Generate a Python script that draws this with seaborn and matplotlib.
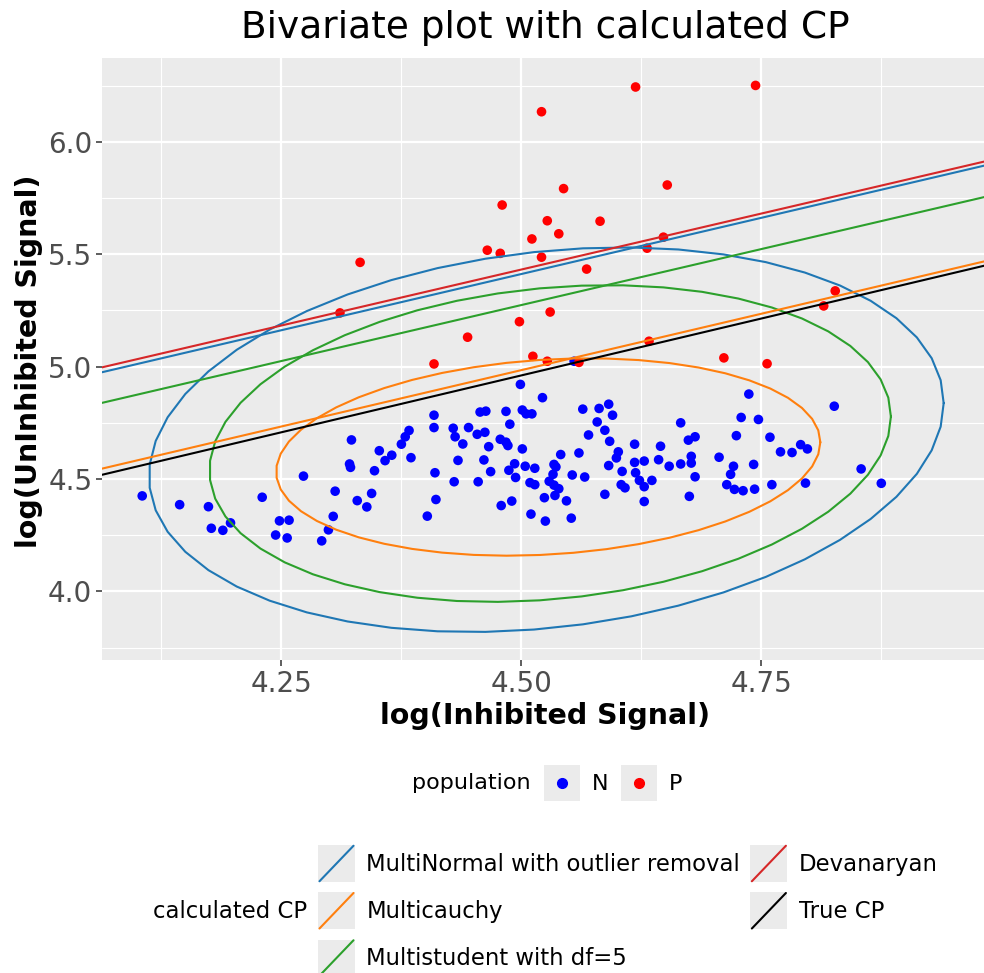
import numpy as np
import pandas as pd
import matplotlib
matplotlib.use("Agg")
import matplotlib.pyplot as plt
import seaborn as sns
from matplotlib.legend_handler import HandlerBase
from matplotlib.lines import Line2D
from matplotlib.patches import Rectangle
from matplotlib.ticker import FixedLocator

# ---------------- data ----------------
n_x = [4.105, 4.144, 4.174, 4.177, 4.189, 4.197, 4.230, 4.248, 4.258, 4.244, 4.256, 4.292, 4.299,
       4.304, 4.306, 4.273, 4.323, 4.321, 4.322, 4.329, 4.339, 4.344, 4.347, 4.352, 4.358, 4.365,
       4.499, 4.522, 4.409, 4.409, 4.383, 4.379, 4.375, 4.385, 4.410, 4.411, 4.402, 4.429, 4.431,
       4.439, 4.445, 4.454, 4.462, 4.457, 4.463, 4.484, 4.488, 4.501, 4.505, 4.511, 4.466, 4.478,
       4.484, 4.486, 4.501, 4.434, 4.461, 4.468, 4.430, 4.455, 4.493, 4.487, 4.494, 4.504, 4.514,
       4.509, 4.514, 4.479, 4.490, 4.510, 4.525, 4.524, 4.534, 4.536, 4.533, 4.529, 4.534, 4.539,
       4.535, 4.547, 4.552, 4.541, 4.553, 4.560, 4.566, 4.570, 4.564, 4.579, 4.581,
       4.591, 4.595, 4.587, 4.592, 4.601, 4.599, 4.591, 4.605, 4.618, 4.618, 4.628, 4.619, 4.623,
       4.628, 4.636, 4.604, 4.608, 4.587, 4.628, 4.645, 4.643, 4.654, 4.666, 4.666, 4.674, 4.681,
       4.677, 4.677, 4.681, 4.675, 4.706, 4.721, 4.718, 4.714, 4.722, 4.731, 4.743, 4.742, 4.724,
       4.729, 4.747, 4.737, 4.759, 4.761, 4.770, 4.782, 4.791, 4.798, 4.796, 4.826, 4.854, 4.875,
       4.555]
n_y = [4.425, 4.386, 4.377, 4.281, 4.272, 4.305, 4.419, 4.314, 4.317, 4.251, 4.238, 4.225, 4.274,
       4.334, 4.446, 4.513, 4.674, 4.567, 4.552, 4.404, 4.376, 4.436, 4.537, 4.626, 4.582, 4.606,
       4.921, 4.862, 4.784, 4.729, 4.716, 4.688, 4.655, 4.595, 4.528, 4.409, 4.335, 4.726, 4.688,
       4.656, 4.729, 4.699, 4.708, 4.798, 4.802, 4.801, 4.744, 4.807, 4.790, 4.790, 4.644, 4.677,
       4.664, 4.649, 4.634, 4.583, 4.585, 4.533, 4.488, 4.488, 4.568, 4.539, 4.507, 4.557, 4.548,
       4.484, 4.475, 4.382, 4.402, 4.344, 4.313, 4.417, 4.565, 4.554, 4.521, 4.490, 4.473, 4.457,
       4.427, 4.403, 4.326, 4.609, 4.518, 4.616, 4.509, 4.696, 4.811, 4.754, 4.814,
       4.833, 4.784, 4.717, 4.668, 4.621, 4.594, 4.560, 4.534, 4.655, 4.574, 4.580, 4.528, 4.494,
       4.466, 4.494, 4.475, 4.461, 4.432, 4.400, 4.646, 4.586, 4.557, 4.750, 4.567, 4.673, 4.688,
       4.601, 4.571, 4.510, 4.423, 4.597, 4.557, 4.521, 4.475, 4.454, 4.448, 4.455, 4.565, 4.693,
       4.774, 4.765, 4.878, 4.686, 4.475, 4.621, 4.618, 4.653, 4.634, 4.482, 4.824, 4.545, 4.481,
       5.024]

p_x = [4.521, 4.619, 4.744, 4.544, 4.652, 4.480, 4.527, 4.582, 4.539, 4.511, 4.648, 4.332,
       4.4645, 4.478, 4.521, 4.631, 4.568, 4.311, 4.530, 4.498, 4.444, 4.409, 4.512, 4.527,
       4.560, 4.633, 4.711, 4.756, 4.827, 4.815]
p_y = [6.134, 6.244, 6.251, 5.792, 5.808, 5.719, 5.649, 5.647, 5.591, 5.568, 5.576, 5.464,
       5.518, 5.504, 5.487, 5.527, 5.434, 5.239, 5.243, 5.200, 5.131, 5.012, 5.046, 5.024,
       5.019, 5.113, 5.039, 5.013, 5.337, 5.270]

cp_methods = ["MultiNormal with outlier removal", "Multicauchy", "Multistudent with df=5",
              "Devanaryan", "True CP"]
cp_colors = ["#1F77B4", "#FF7F0E", "#2CA02C", "#D62728", "#000000"]
cp_slopes = [1.000, 1.003, 0.996, 0.996, 1.012]
cp_intercepts = [0.912, 0.471, 0.792, 0.950, 0.407]

ell_methods = ["MultiNormal with outlier removal", "Multicauchy", "Multistudent with df=5"]
ell_cx = [4.526, 4.528, 4.530]
ell_cy = [4.675, 4.598, 4.658]
ell_halfw = [0.414, 0.2835, 0.355]
ell_halfh = [0.8555, 0.439, 0.7045]
ell_rho = [0.19, 0.15, 0.17]

x_ticks = [4.25, 4.50, 4.75]
x_ticklabels = ["4.25", "4.50", "4.75"]
y_ticks = [4.0, 4.5, 5.0, 5.5, 6.0]
y_ticklabels = ["4.0", "4.5", "5.0", "5.5", "6.0"]

# ---------------- figure ----------------
sns.set_style("darkgrid")
plt.rcParams["font.family"] = ["DejaVu Sans"]
plt.rcParams["text.color"] = "black"
W, H = 984, 973
fig = plt.figure(figsize=(W / 100, H / 100), dpi=100)
ax = fig.add_axes([102 / W, 1 - 660 / H, (984 - 102) / W, (660 - 58) / H])
ax.set_facecolor("#EBEBEB")

df_pts = pd.DataFrame({"x": n_x + p_x, "y": n_y + p_y,
                       "population": ["N"] * len(n_x) + ["P"] * len(p_x)})
sns.scatterplot(data=df_pts, x="x", y="y", hue="population",
                palette={"N": "blue", "P": "red"}, s=48, linewidth=0,
                legend=False, ax=ax, zorder=3)

color_of = dict(zip(cp_methods, cp_colors))
t = np.linspace(0, 2 * np.pi, 52)
for m, cx, cy, a, b, r in zip(ell_methods, ell_cx, ell_cy, ell_halfw, ell_halfh, ell_rho):
    ex = cx + a * np.cos(t)
    ey = cy + b * (r * np.cos(t) + np.sqrt(1 - r * r) * np.sin(t))
    ax.plot(ex, ey, color=color_of[m], lw=1.5, zorder=4)

for m, c, s_, i_ in zip(cp_methods, cp_colors, cp_slopes, cp_intercepts):
    ax.axline((0, i_), slope=s_, color=c, lw=1.5, zorder=5)

ax.set_xlim(4.0631, 4.982)
ax.set_ylim(3.695, 6.373)
ax.xaxis.set_major_locator(FixedLocator(x_ticks))
ax.set_xticklabels(x_ticklabels)
ax.yaxis.set_major_locator(FixedLocator(y_ticks))
ax.set_yticklabels(y_ticklabels)
ax.xaxis.set_minor_locator(FixedLocator([4.125, 4.375, 4.625, 4.875]))
ax.yaxis.set_minor_locator(FixedLocator([3.75, 4.25, 4.75, 5.25, 5.75, 6.25]))
ax.grid(which="major", color="white", lw=1.6)
ax.grid(which="minor", color="white", lw=0.8)
ax.set_axisbelow(True)
for sp in ax.spines.values():
    sp.set_visible(False)
ax.tick_params(which="major", length=4, width=1.1, color="#333333",
               labelcolor="#4D4D4D", labelsize=20, pad=3, bottom=True, left=True)
ax.tick_params(which="minor", length=0)
ax.set_xlabel("")
ax.set_ylabel("")

fig.text(545 / W, 1 - 716 / H, "log(Inhibited Signal)", ha="center", va="center",
         fontsize=20.5, fontweight="bold", color="black")
fig.text(29 / W, 1 - 361 / H, "log(UnInhibited Signal)", ha="center", va="center",
         rotation=90, fontsize=20.5, fontweight="bold", color="black")
fig.text(545 / W, 1 - 28 / H, "Bivariate plot with calculated CP", ha="center",
         va="center", fontsize=27, color="black")


# ---------------- legends ----------------
class KeyHandler(HandlerBase):
    def __init__(self, kind, color):
        super().__init__()
        self.kind = kind
        self.color = color

    def create_artists(self, legend, orig_handle, xdescent, ydescent, width, height,
                       fontsize, trans):
        x0, y0 = -xdescent, -ydescent
        bg = Rectangle((x0, y0), width, height, facecolor="#EBEBEB",
                       edgecolor="none", transform=trans)
        if self.kind == "line":
            art = Line2D([x0 + 0.04 * width, x0 + 0.96 * width],
                         [y0 + 0.02 * height, y0 + 0.98 * height],
                         color=self.color, lw=1.5, transform=trans)
        else:
            art = Line2D([x0 + width / 2], [y0 + height / 2], marker="o", ms=7,
                         color=self.color, linestyle="none", transform=trans)
        return [bg, art]


FS = 16
FS2 = 16.4
key_em = 36 / (FS * 100 / 72)
hh = (key_em - 0.245) / 0.65
key_em2 = 37 / (FS2 * 100 / 72)
hh2 = (key_em2 - 0.245) / 0.65

pop_labels = ["N", "P"]
pop_colors = ["blue", "red"]
pop_handles = [Line2D([], []) for _ in pop_labels]
leg1 = fig.legend(pop_handles, pop_labels, loc="upper left",
                  bbox_to_anchor=(544 / W, 1 - 765 / H), bbox_transform=fig.transFigure,
                  ncol=2, frameon=False, fontsize=FS, borderpad=0, borderaxespad=0,
                  handlelength=key_em, handleheight=hh, handletextpad=0.55,
                  columnspacing=0.55, labelcolor="black",
                  handler_map={h: KeyHandler("point", c)
                               for h, c in zip(pop_handles, pop_colors)})
fig.text(412 / W, 1 - 783 / H, "population", ha="left", va="center", fontsize=FS,
         color="black")

cp_handles = [Line2D([], []) for _ in cp_methods]
leg2 = fig.legend(cp_handles, cp_methods, loc="upper left",
                  bbox_to_anchor=(318 / W, 1 - 845 / H), bbox_transform=fig.transFigure,
                  ncol=2, frameon=False, fontsize=FS2, borderpad=0, borderaxespad=0,
                  handlelength=key_em2, handleheight=hh2, handletextpad=0.5,
                  columnspacing=0.45, labelspacing=0.45, labelcolor="black",
                  handler_map={h: KeyHandler("line", c)
                               for h, c in zip(cp_handles, cp_colors)})
fig.text(307 / W, 1 - 912 / H, "calculated CP", ha="right", va="center", fontsize=FS2,
         color="black")

fig.savefig("out.png", dpi=100)
